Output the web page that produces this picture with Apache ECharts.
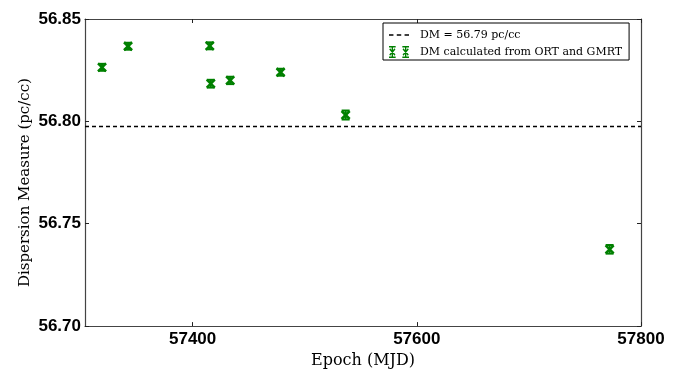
<!DOCTYPE html>
<html>
<head>
<meta charset="utf-8">
<script src="https://cdn.jsdelivr.net/npm/echarts@6/dist/echarts.min.js"></script>
<style>
  html, body { margin: 0; padding: 0; background: #fff; }
  #chart { width: 688px; height: 374px; }
</style>
</head>
<body>
<div id="chart"></div>
<script>
// values
var epochs = [57319.2, 57342.4, 57415.3, 57416.2, 57433.5, 57478.5, 57536.5, 57772.0]
var dms = [56.8264, 56.8367, 56.8369, 56.8184, 56.8200, 56.8240, 56.8031, 56.7375]
var dmErrs = [0.0017, 0.0017, 0.0017, 0.0019, 0.0018, 0.0017, 0.0022, 0.0021]
var dmRef = 56.7975
var xRange = [57304, 57800]
var xTicks = [57400, 57600, 57800]

var green = '#008000'

var points = []
for (var i = 0; i < epochs.length; i++) {
	points.push([epochs[i], dms[i], dmErrs[i]])
}

// two errorbar glyphs side by side, like matplotlib numpoints=2
var legendIcon = 'path://' +
	'M0,0L8,0L8,1.6L0,1.6Z M0,10.4L8,10.4L8,12L0,12Z M3.2,0L4.8,0L4.8,12L3.2,12Z ' +
	'M0.3,3.4L1.4,2.3L7.7,8.6L6.6,9.7Z M6.6,2.3L7.7,3.4L1.4,9.7L0.3,8.6Z ' +
	'M16,0L24,0L24,1.6L16,1.6Z M16,10.4L24,10.4L24,12L16,12Z M19.2,0L20.8,0L20.8,12L19.2,12Z ' +
	'M16.3,3.4L17.4,2.3L23.7,8.6L22.6,9.7Z M22.6,2.3L23.7,3.4L17.4,9.7L16.3,8.6Z'

var dashIcon = 'path://' +
	'M0,5.3L4,5.3L4,6.7L0,6.7Z M7,5.3L11,5.3L11,6.7L7,6.7Z M14,5.3L18,5.3L18,6.7L14,6.7Z ' +
	'M0,0L0.01,0L0.01,0.01Z M17.99,11.99L18,11.99L18,12Z'

function renderErr(params, api) {
	var x = api.value(0), y = api.value(1), e = api.value(2)
	var c = api.coord([x, y])
	var hi = api.coord([x, y + e])
	var lo = api.coord([x, y - e])
	var s = 4, cw = 4
	var st = { stroke: green, lineWidth: 2 }
	var stx = { stroke: green, lineWidth: 2.6 }
	return {
		type: 'group',
		children: [
			{ type: 'line', shape: { x1: c[0], y1: hi[1], x2: c[0], y2: lo[1] }, style: st },
			{ type: 'line', shape: { x1: c[0] - cw, y1: hi[1], x2: c[0] + cw, y2: hi[1] }, style: st },
			{ type: 'line', shape: { x1: c[0] - cw, y1: lo[1], x2: c[0] + cw, y2: lo[1] }, style: st },
			{ type: 'line', shape: { x1: c[0] - s, y1: c[1] - s, x2: c[0] + s, y2: c[1] + s }, style: stx },
			{ type: 'line', shape: { x1: c[0] - s, y1: c[1] + s, x2: c[0] + s, y2: c[1] - s }, style: stx }
		]
	}
}

var axisLine = { show: true, lineStyle: { color: '#444', width: 1.2 } }
var tickIn = { show: true, inside: true, length: 4, lineStyle: { color: '#222' } }

var chart = echarts.init(document.getElementById('chart'))
var option = {
	animation: false,
	grid: { left: 85, right: 47, top: 19, bottom: 42 },
	legend: {
		orient: 'vertical',
		left: 383,
		top: 23,
		padding: [6, 7, 2, 6],
		itemGap: 5,
		itemWidth: 20,
		itemHeight: 12,
		symbolKeepAspect: false,
		borderColor: '#000',
		borderWidth: 1,
		borderRadius: 0,
		textStyle: { fontFamily: 'DejaVu Serif', fontSize: 11, color: '#000', padding: [0, 0, 0, 6] },
		data: [
			{ name: 'DM = 56.79 pc/cc', icon: dashIcon, itemStyle: { color: '#000' } },
			{ name: 'DM calculated from ORT and GMRT', icon: legendIcon, itemStyle: { color: green } }
		]
	},
	xAxis: [{
		type: 'value',
		min: xRange[0],
		max: xRange[1],
		name: 'Epoch (MJD)',
		nameLocation: 'middle',
		nameGap: 22,
		nameTextStyle: { fontFamily: 'DejaVu Serif', fontSize: 16, color: '#000' },
		axisLine: axisLine,
		axisTick: Object.assign({ customValues: xTicks }, tickIn),
		axisLabel: {
			customValues: xTicks,
			margin: 5,
			fontFamily: 'Liberation Sans',
			fontWeight: 'bold',
			fontSize: 17,
			color: '#000',
			formatter: function (v) { return String(v) }
		},
		splitLine: { show: false }
	}, {
		type: 'value',
		position: 'top',
		min: xRange[0],
		max: xRange[1],
		axisLine: axisLine,
		axisTick: Object.assign({ customValues: xTicks }, tickIn),
		axisLabel: { show: false },
		splitLine: { show: false }
	}],
	yAxis: [{
		type: 'value',
		min: 56.70,
		max: 56.85,
		interval: 0.05,
		name: 'Dispersion Measure (pc/cc)',
		nameLocation: 'middle',
		nameGap: 52,
		nameMoveOverlap: false,
		nameTextStyle: { fontFamily: 'DejaVu Serif', fontSize: 15, color: '#000', padding: [0, 20, 0, 0] },
		axisLine: axisLine,
		axisTick: tickIn,
		axisLabel: {
			margin: 4,
			fontFamily: 'Liberation Sans',
			fontWeight: 'bold',
			fontSize: 17,
			color: '#000',
			formatter: function (v) { return v.toFixed(2) }
		},
		splitLine: { show: false }
	}, {
		type: 'value',
		position: 'right',
		min: 56.70,
		max: 56.85,
		interval: 0.05,
		axisLine: axisLine,
		axisTick: tickIn,
		axisLabel: { show: false },
		splitLine: { show: false }
	}],
	series: [{
		name: 'DM = 56.79 pc/cc',
		type: 'line',
		symbol: 'none',
		lineStyle: { color: '#000', width: 1.5, type: [4, 3] },
		itemStyle: { color: '#000' },
		data: [[xRange[0], dmRef], [xRange[1], dmRef]],
		z: 1
	}, {
		name: 'DM calculated from ORT and GMRT',
		type: 'custom',
		renderItem: renderErr,
		itemStyle: { color: green },
		encode: { x: 0, y: 1 },
		data: points,
		z: 3
	}]
}
chart.setOption(option)
</script>
</body>
</html>
